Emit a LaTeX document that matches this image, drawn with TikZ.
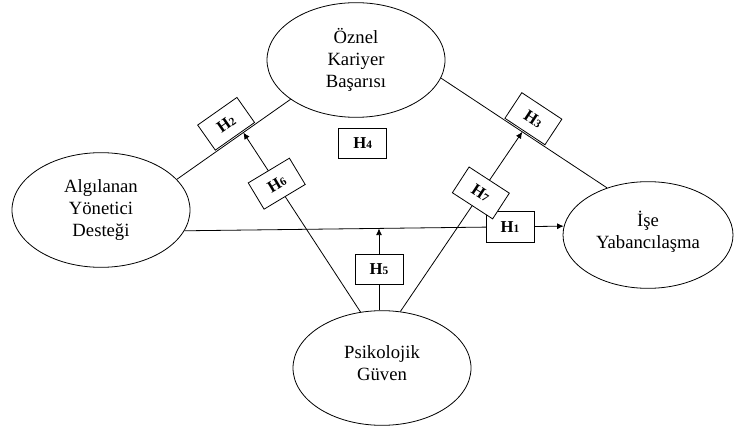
\documentclass[tikz,border=0pt]{standalone}
\usepackage{fontspec}
\setmainfont{Liberation Serif}
\usetikzlibrary{positioning,arrows.meta,shapes.geometric}

\newcommand{\hyp}[1]{\textbf{H}{\fontsize{8.5}{9}\selectfont\textbf{#1}}}

\begin{document}
\begin{tikzpicture}[
  x=0.75pt, y=0.75pt,
  latent/.style={draw, ellipse, align=center, minimum width=133.5pt, minimum height=86pt,
    inner sep=1pt, line width=0.6pt, font=\fontsize{14}{16.5}\selectfont},
  hbox/.style={draw, fill=white, minimum width=36pt, minimum height=23pt, inner sep=0pt,
    line width=0.6pt, font=\fontsize{12.5}{14}\selectfont},
  link/.style={line width=0.6pt},
  arrow/.style={link, -{Latex[length=5pt,width=4.5pt]}}
]
\useasboundingbox (0,0) rectangle (734,432);

\node[latent] (okb) at (356,372) {Öznel\\Kariyer\\Başarısı};
\node[latent] (ald) at (101,222) {Algılanan\\Yönetici\\Desteği};
\node[latent, minimum width=127.5pt, minimum height=80pt] (ise) at (648,197)
  {İşe\\Yabancılaşma\\[-9pt]\mbox{}};
\node[latent] (pg) at (382,64) {Psikolojik\\Güven\\[-9pt]\mbox{}};
\node[hbox, below=7.5pt of okb, xshift=5pt] (h4) {\hyp{4}};

% direct links
\draw[link] (ald.22) -- node[hbox, sloped, above=1pt, pos=0.52] (h2) {\hyp{2}}
  coordinate[pos=0.585] (p2) (okb.211);
\draw[link] (okb.-12) -- node[hbox, sloped, above=1pt, pos=0.5] (h3) {\hyp{3}}
  coordinate[pos=0.49] (p3) (ise.131);
\draw[arrow] (ald.-14) -- coordinate[pos=0.513] (p5)
  node[hbox, pos=0.858] (h1) {\hyp{1}} (ise.174);

% moderation arrows
\draw[arrow] (pg.111) -- node[hbox, rotate=31, pos=0.715] (h6) {\hyp{6}} (p2);
\draw[arrow] (pg.72) -- node[hbox, rotate=-33, pos=0.66] (h7) {\hyp{7}} (p3);
\draw[arrow] (pg.93) -- node[hbox, pos=0.5] (h5) {\hyp{5}} (pg.93 |- p5);
\end{tikzpicture}
\end{document}
